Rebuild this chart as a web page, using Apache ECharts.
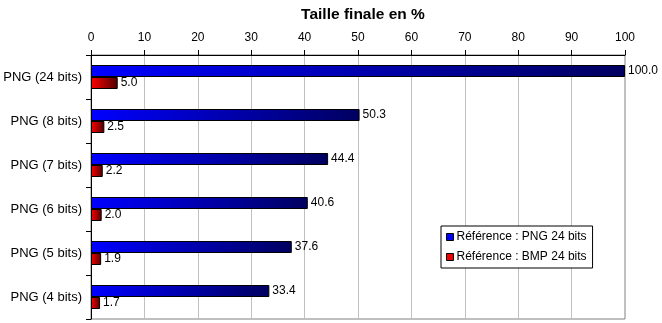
<!DOCTYPE html>
<html>
<head>
<meta charset="utf-8">
<script src="https://cdn.jsdelivr.net/npm/echarts@6/dist/echarts.min.js"></script>
<style>
html,body{margin:0;padding:0;background:#fff;}
#chart{width:662px;height:323px;}
</style>
</head>
<body>
<div id="chart"></div>
<script>
// Final size of each image format, in percent
const categories = ['PNG (24 bits)', 'PNG (8 bits)', 'PNG (7 bits)', 'PNG (6 bits)', 'PNG (5 bits)', 'PNG (4 bits)'];
const refPng = [100.0, 50.3, 44.4, 40.6, 37.6, 33.4];
const refBmp = [5.0, 2.5, 2.2, 2.0, 1.9, 1.7];
const seriesNames = ['Référence : PNG 24 bits', 'Référence : BMP 24 bits'];
const xTicks = { min: 0, max: 100, interval: 10 };

const FONT = '"Liberation Sans", Arial, sans-serif';

function grad(from, to) {
  return new echarts.graphic.LinearGradient(0, 0, 1, 0, [
    { offset: 0, color: from },
    { offset: 1, color: to }
  ]);
}

const chart = echarts.init(document.getElementById('chart'));
chart.setOption({
  animation: false,
  backgroundColor: '#fff',
  textStyle: { fontFamily: FONT },
  title: {
    text: 'Taille finale en %',
    left: 358, top: 2, textAlign: 'center',
    textStyle: { fontFamily: FONT, fontSize: 15.5, fontWeight: 'bold', color: '#000' }
  },
  legend: {
    orient: 'vertical',
    left: 441, top: 226,
    width: 147,
    padding: [5, 6, 5, 5],
    itemGap: 8,
    itemWidth: 7, itemHeight: 7,
    backgroundColor: '#fff',
    borderColor: '#000', borderWidth: 1,
    icon: 'rect',
    textStyle: { fontFamily: FONT, fontSize: 12, color: '#000', padding: [0, 0, 0, -2] },
    data: [
      { name: seriesNames[0], itemStyle: { color: '#0000ff', borderColor: '#000', borderWidth: 1 } },
      { name: seriesNames[1], itemStyle: { color: '#ee0000', borderColor: '#000', borderWidth: 1 } }
    ]
  },
  grid: {
    left: 91, right: 37, top: 55, bottom: 4,
    show: true, borderColor: '#808080', borderWidth: 1,
    containLabel: false
  },
  xAxis: {
    type: 'value',
    position: 'top',
    min: xTicks.min, max: xTicks.max, interval: xTicks.interval,
    axisLine: { show: true, lineStyle: { color: '#000', width: 1 } },
    axisTick: { show: true, length: 5, lineStyle: { color: '#000' } },
    axisLabel: { fontFamily: FONT, fontSize: 12, color: '#000', margin: 11 },
    splitLine: { show: true, lineStyle: { color: '#c0c0c0', width: 1 } }
  },
  yAxis: {
    type: 'category',
    inverse: true,
    data: categories,
    axisLine: { show: true, lineStyle: { color: '#000', width: 1 } },
    axisTick: { show: true, length: 5, lineStyle: { color: '#000' } },
    axisLabel: { fontFamily: FONT, fontSize: 13, color: '#000', margin: 9 },
    splitLine: { show: false }
  },
  series: [
    {
      name: seriesNames[0],
      type: 'bar',
      data: refPng,
      barWidth: 12,
      barGap: '0%',
      itemStyle: { color: grad('#0000ff', '#000060'), borderColor: '#000', borderWidth: 1 },
      label: {
        show: true, position: 'right', distance: 3,
        fontFamily: FONT, fontSize: 12, color: '#000',
        formatter: p => p.value.toFixed(1)
      }
    },
    {
      name: seriesNames[1],
      type: 'bar',
      data: refBmp,
      barWidth: 12,
      itemStyle: { color: grad('#ff0000', '#500000'), borderColor: '#000', borderWidth: 1 },
      label: {
        show: true, position: 'right', distance: 3,
        fontFamily: FONT, fontSize: 12, color: '#000',
        formatter: p => p.value.toFixed(1)
      }
    }
  ]
});
</script>
</body>
</html>
